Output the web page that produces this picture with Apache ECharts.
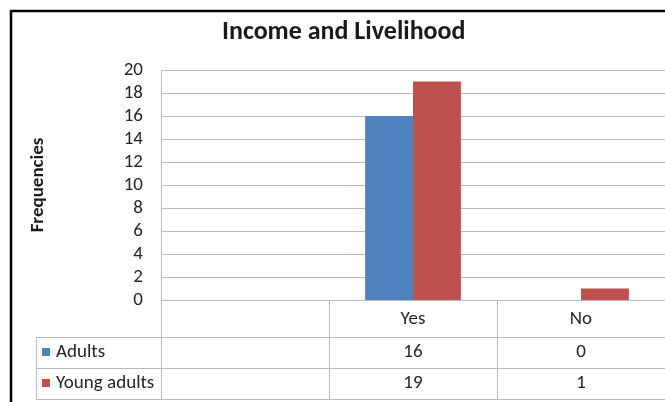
<!DOCTYPE html>
<html>
<head>
<meta charset="utf-8">
<title>Income and Livelihood</title>
<script src="https://cdn.jsdelivr.net/npm/echarts@6/dist/echarts.min.js"></script>
<style>
  html, body { margin: 0; padding: 0; background: #ffffff; }
  #chart { width: 665px; height: 402px; }
</style>
</head>
<body>
<div id="chart"></div>
<script>
// Survey answers per category (first column of the data table is empty)
const categories = ['', 'Yes', 'No'];
const adults = [null, 16, 0];
const youngAdults = [null, 19, 1];
const seriesNames = ['Adults', 'Young adults'];
const yMin = 0, yMax = 20, yStep = 2;

const FONT = 'Carlito, Lato, "Open Sans", sans-serif';
const TEXT = '#262626';
const RULE = '#bababa';

const chart = echarts.init(document.getElementById('chart'), null, { renderer: 'canvas' });

// table row helpers: extra category axes print each series' values under the plot
function valueRow(values, offset) {
  return {
    type: 'category',
    data: categories,
    position: 'bottom',
    offset: offset,
    axisLine: { show: false },
    axisTick: { show: false },
    axisLabel: {
      interval: 0,
      margin: 12,
      fontFamily: FONT,
      fontSize: 19,
      color: TEXT,
      formatter: (v, i) => (values[i] === null || values[i] === undefined) ? '' : String(values[i])
    }
  };
}

chart.setOption({
  animation: false,
  backgroundColor: '#ffffff',
  color: ['#4F81BD', '#C0504D'],
  title: {
    text: 'Income and Livelihood',
    left: 217,
    top: 14,
    textStyle: { fontFamily: FONT, fontSize: 26, fontWeight: 'bold', color: '#1a1a1a' }
  },
  legend: {
    data: seriesNames,
    orient: 'vertical',
    left: 42,
    top: 342,
    padding: 0,
    icon: 'rect',
    itemWidth: 8,
    itemHeight: 8,
    itemGap: 11,
    textStyle: { fontFamily: FONT, fontSize: 19, color: TEXT, lineHeight: 20, padding: [0, 0, 0, 1] }
  },
  grid: { left: 161, top: 70, right: 0, bottom: 102, containLabel: false },
  xAxis: [
    {
      type: 'category',
      data: categories,
      axisLine: { show: true, lineStyle: { color: RULE, width: 1 } },
      axisTick: { show: true, length: 100, alignWithLabel: false, lineStyle: { color: RULE, width: 1 } },
      axisLabel: { interval: 0, margin: 10, fontFamily: FONT, fontSize: 19, color: TEXT },
      splitLine: { show: false }
    },
    valueRow(adults, 31),
    valueRow(youngAdults, 62)
  ],
  yAxis: {
    type: 'value',
    min: yMin,
    max: yMax,
    interval: yStep,
    name: 'Frequencies',
    nameLocation: 'middle',
    nameRotate: 90,
    nameGap: 113,
    nameTextStyle: { fontFamily: FONT, fontSize: 19, fontWeight: 'bold', color: '#1a1a1a' },
    axisLine: { show: true, lineStyle: { color: RULE, width: 1 } },
    axisTick: { show: false },
    axisLabel: { margin: 18, fontFamily: FONT, fontSize: 19, color: TEXT },
    splitLine: { show: true, lineStyle: { color: RULE, width: 1 } }
  },
  series: [
    {
      name: seriesNames[0],
      type: 'bar',
      data: adults,
      barGap: '0%',
      barCategoryGap: '43%'
    },
    {
      name: seriesNames[1],
      type: 'bar',
      data: youngAdults,
      barGap: '0%',
      barCategoryGap: '43%'
    }
  ],
  graphic: [
    // outer chart frame
    { type: 'rect', shape: { x: 11, y: 11, width: 700, height: 450 },
      style: { fill: 'none', stroke: '#000000', lineWidth: 2.5 }, silent: true },
    // data table rules
    { type: 'line', shape: { x1: 36, y1: 337.5, x2: 665, y2: 337.5 }, style: { stroke: RULE, lineWidth: 1 } },
    { type: 'line', shape: { x1: 36, y1: 368.5, x2: 665, y2: 368.5 }, style: { stroke: RULE, lineWidth: 1 } },
    { type: 'line', shape: { x1: 36, y1: 399.5, x2: 665, y2: 399.5 }, style: { stroke: RULE, lineWidth: 1 } },
    { type: 'line', shape: { x1: 36.5, y1: 337, x2: 36.5, y2: 400 }, style: { stroke: RULE, lineWidth: 1 } }
  ]
});
</script>
</body>
</html>
